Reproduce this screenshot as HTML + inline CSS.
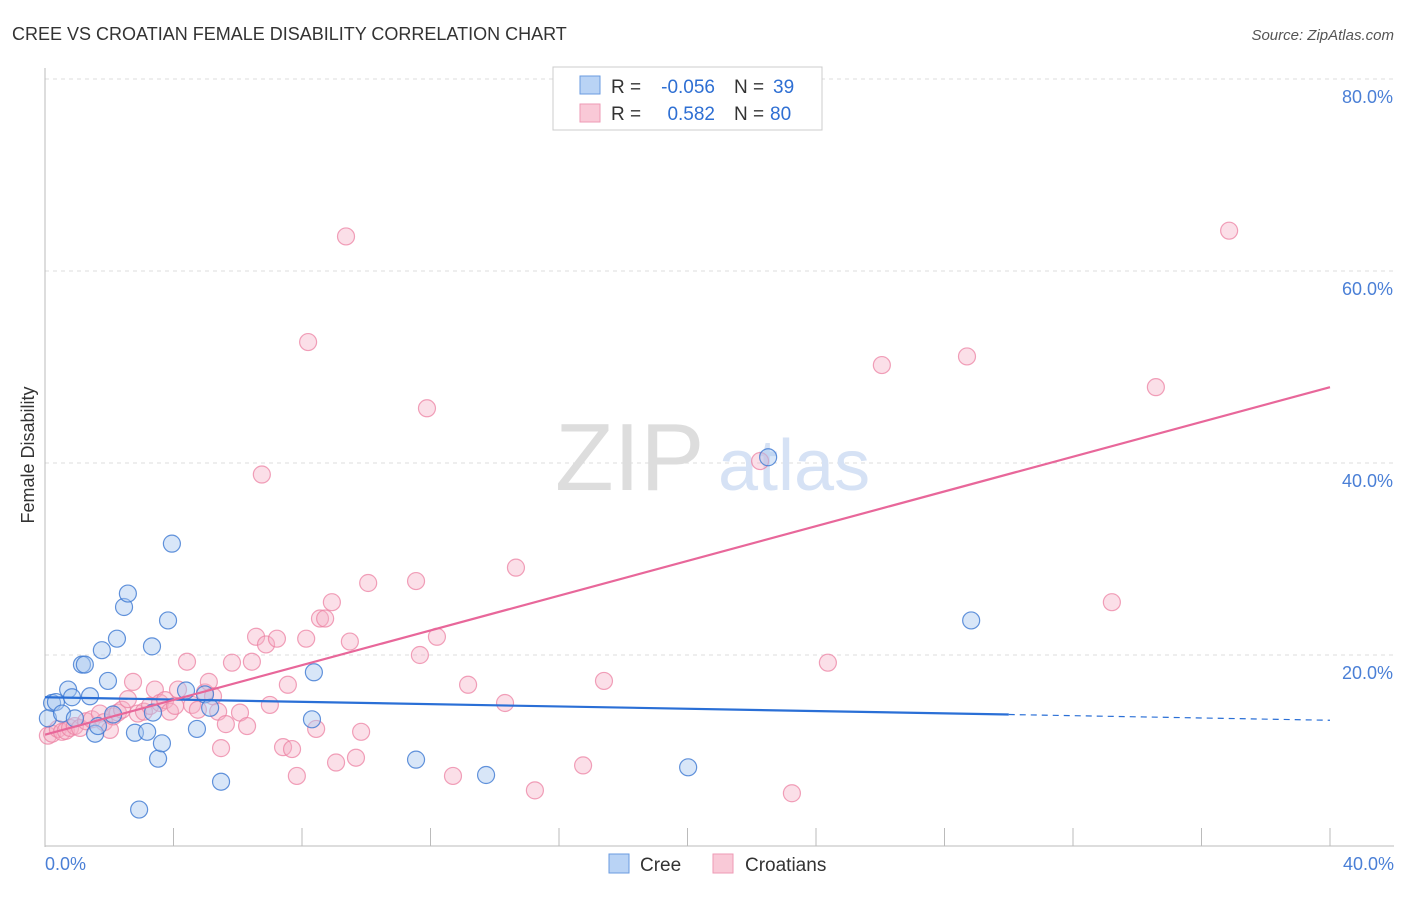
<!DOCTYPE html>
<html><head><meta charset="utf-8"><style>
body{margin:0;background:#fff;font-family:"Liberation Sans",sans-serif;}
svg text{font-family:"Liberation Sans",sans-serif;}
</style></head><body>
<svg id="chart" width="1406" height="892">
<text x="12" y="40" font-size="18" fill="#333">CREE VS CROATIAN FEMALE DISABILITY CORRELATION CHART</text>
<text x="1394" y="40" font-size="15" fill="#555" font-style="italic" text-anchor="end">Source: ZipAtlas.com</text>
<g id="grid"></g>
<text x="555" y="490" font-size="96" fill="#ddd" font-family="Liberation Serif">ZIP</text>
<text x="718" y="490" font-size="72" fill="#d6e2f5">atlas</text>
<line x1="45" y1="68" x2="45" y2="847" stroke="#bbb"/>
<line x1="45" y1="846" x2="1394" y2="846" stroke="#bbb"/>
<text transform="translate(34,455) rotate(-90)" font-size="18" fill="#333" text-anchor="middle">Female Disability</text>
<text x="45" y="870" font-size="18" fill="#4a7fd6">0.0%</text>
<text x="1394" y="870" font-size="18" fill="#4a7fd6" text-anchor="end">40.0%</text>
<g id="marks"></g>
<g>
<rect x="553" y="67" width="269" height="63" fill="#fff" stroke="#ccc"/>
<rect x="580" y="76" width="20" height="18" fill="#b9d3f5" stroke="#6a9be0"/>
<rect x="580" y="104" width="20" height="18" fill="#f9c9d7" stroke="#ee9ab4"/>
<text x="611" y="93" font-size="19" fill="#333">R =</text>
<text x="715" y="93" font-size="19" fill="#2e6fd3" text-anchor="end">-0.056</text>
<text x="734" y="93" font-size="19" fill="#333">N =</text>
<text x="773" y="93" font-size="19" fill="#2e6fd3">39</text>
<text x="611" y="120" font-size="19" fill="#333">R =</text>
<text x="715" y="120" font-size="19" fill="#2e6fd3" text-anchor="end">0.582</text>
<text x="734" y="120" font-size="19" fill="#333">N =</text>
<text x="770" y="120" font-size="19" fill="#2e6fd3">80</text>
</g>
<g>
<rect x="609" y="854" width="20" height="19" fill="#b9d3f5" stroke="#6a9be0"/>
<text x="640" y="871" font-size="19" fill="#333">Cree</text>
<rect x="713" y="854" width="20" height="19" fill="#f9c9d7" stroke="#ee9ab4"/>
<text x="745" y="871" font-size="19" fill="#333">Croatians</text>
</g>
</svg>
<script>
const yTicks=[20,40,60,80];
const xTicks=[4,8,12,16,20,24,28,32,36,40];
const creeX=[0.22,0.34,0.09,0.53,0.72,0.84,0.93,1.15,1.24,1.40,1.56,1.65,1.77,1.96,2.12,2.24,2.46,2.58,2.80,3.18,3.33,3.36,3.52,3.64,3.83,3.95,4.39,4.73,4.98,5.14,5.48,8.37,8.31,11.55,13.73,20.02,22.51,28.83,2.93];
const creeY=[15.0,15.1,13.4,13.9,16.4,15.6,13.4,19.0,19.0,15.7,11.8,12.6,20.5,17.3,13.8,21.7,25.0,26.4,11.9,12.0,20.9,14.0,9.2,10.8,23.6,31.6,16.3,12.3,15.9,14.5,6.8,18.2,13.3,9.1,7.5,8.3,40.6,23.6,3.9];
const croX=[0.09,0.22,0.40,0.53,0.65,0.78,0.93,1.09,1.28,1.46,1.71,1.84,2.02,2.12,2.27,2.40,2.58,2.74,2.89,3.08,3.27,3.42,3.58,3.74,3.89,4.05,4.14,4.42,4.58,4.76,4.98,5.10,5.23,5.39,5.48,5.63,5.82,6.07,6.29,6.44,6.57,6.75,6.88,7.00,7.22,7.41,7.56,7.69,7.84,8.13,8.19,8.44,8.56,8.72,8.93,9.06,9.37,9.49,9.68,9.84,10.06,11.55,11.67,11.89,12.20,12.70,13.17,14.32,14.66,15.25,16.75,17.40,22.26,23.25,24.37,26.05,28.70,33.21,34.58,36.86];
const croY=[11.6,11.8,12.3,12.0,12.1,12.4,12.6,12.4,13.1,13.3,13.9,13.0,12.2,13.6,14.0,14.3,15.4,17.2,13.9,14.1,14.7,16.4,15.0,15.3,14.1,14.7,16.4,19.3,14.8,14.3,16.1,17.2,15.7,14.1,10.3,12.8,19.2,14.0,12.6,19.3,21.9,38.8,21.1,14.8,21.7,10.4,16.9,10.2,7.4,21.7,52.6,12.3,23.8,23.8,25.5,8.8,63.6,21.4,9.3,12.0,27.5,27.7,20.0,45.7,21.9,7.4,16.9,15.0,29.1,5.9,8.5,17.3,40.2,5.6,19.2,50.2,51.1,25.5,47.9,64.2];
const blueLine=[15.6,13.2];
const pinkLine=[11.7,47.9];
const sx=v=>45+v*32.125, sy=v=>847-v*9.6;
const NS='http://www.w3.org/2000/svg';
const grid=document.getElementById('grid'), marks=document.getElementById('marks');
function mk(tag,attrs,parent){const e=document.createElementNS(NS,tag);for(const k in attrs)e.setAttribute(k,attrs[k]);parent.appendChild(e);return e;}
yTicks.forEach(t=>{
 const l=mk('line',{x1:45,x2:1394,y1:sy(t),y2:sy(t),stroke:'#ddd','stroke-dasharray':'4,4'},grid);
 
 
 const tx=mk('text',{x:1393,y:sy(t)+24,'font-size':18,fill:'#4a7fd6','text-anchor':'end'},grid);
 tx.textContent=t.toFixed(1)+'%';
 
 
});
xTicks.forEach(t=>{
 const l=mk('line',{x1:sx(t),x2:sx(t),y1:828,y2:846,stroke:'#bbb'},grid);
 
 
});
croX.forEach((x,i)=>{
 const c=mk('circle',{cx:sx(x),cy:sy(croY[i]),r:8.5,fill:'rgba(246,176,198,0.4)',stroke:'rgba(236,130,163,0.75)','stroke-width':1.2},marks);
 
 
});
creeX.forEach((x,i)=>{
 const c=mk('circle',{cx:sx(x),cy:sy(creeY[i]),r:8.5,fill:'rgba(168,200,240,0.45)',stroke:'rgba(60,120,210,0.8)','stroke-width':1.2},marks);
 
 
});
const bAt=x=>blueLine[0]+(blueLine[1]-blueLine[0])*x/40;
const b1=mk('line',{x1:sx(0),y1:sy(bAt(0)),x2:sx(30),y2:sy(bAt(30)),stroke:'#2a6fd6','stroke-width':2.2},marks);


const b2=mk('line',{x1:sx(30),y1:sy(bAt(30)),x2:sx(40),y2:sy(bAt(40)),stroke:'#2a6fd6','stroke-width':1.2,'stroke-dasharray':'6,5'},marks);


const p1=mk('line',{x1:sx(0),y1:sy(pinkLine[0]),x2:sx(40),y2:sy(pinkLine[1]),stroke:'#e8679a','stroke-width':2.2},marks);


</script>
</body></html>
